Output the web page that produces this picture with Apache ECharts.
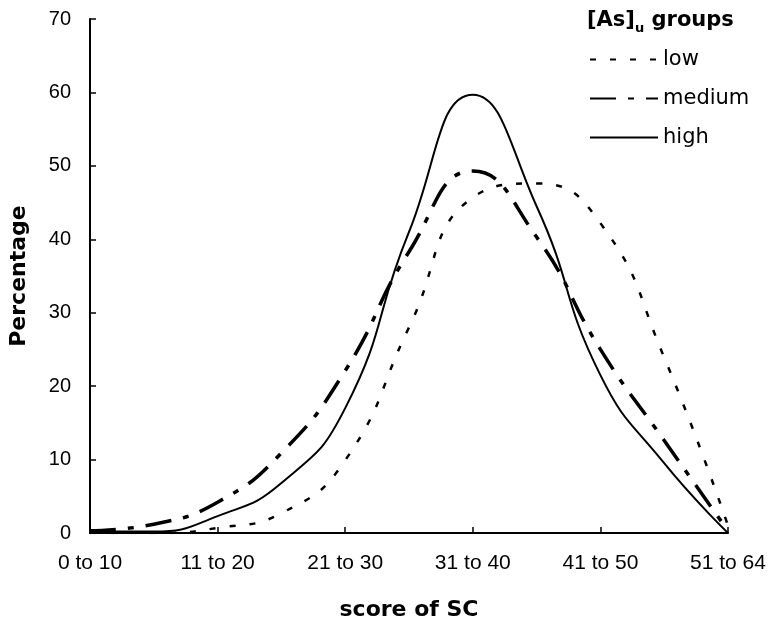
<!DOCTYPE html>
<html>
<head>
<meta charset="utf-8">
<style>
html,body{margin:0;padding:0;background:#fff;}
#chart{width:776px;height:626px;}
</style>
<script src="https://cdn.jsdelivr.net/npm/echarts@6/dist/echarts.min.js"></script>
</head>
<body>
<div id="chart"></div>
<script>
// Category labels on the x axis
const categories = ['0 to 10', '11 to 20', '21 to 30', '31 to 40', '41 to 50', '51 to 64'];
const xPos = [0, 0.5, 1, 1.5, 2, 2.5, 3, 3.5, 4, 4.5, 5];
// Series values (percentage)
const lowValues    = [0,   0,   0.7, 2.7, 9.9,  28,   45.7, 47.6, 42.2, 23.9, 1];
const mediumValues = [0.3, 1.2, 4.2, 10.9, 22.1, 38.3, 49.3, 40.3, 25,  12.6, 0.3];
const highValues   = [0.2, 0.2, 2.3, 6.8, 17,   41,   59.7, 44.5, 21.5, 9.5, 0];
const seriesNames = ['low', 'medium', 'high'];
const yTicks = [0, 10, 20, 30, 40, 50, 60, 70];

const FONT = '"Liberation Sans", Arial, sans-serif';
const WIDE = '"DejaVu Sans", Verdana, sans-serif';
const pair = (vals) => xPos.map((x, i) => [x, vals[i]]);

const chart = echarts.init(document.getElementById('chart'), null, {renderer: 'canvas'});
chart.setOption({
  animation: false,
  backgroundColor: '#fff',
  title: {
    text: '[As]{sub|u} groups',
    left: 582, top: 2,
    textStyle: {
      fontFamily: WIDE, fontSize: 21, fontWeight: 'bold', color: '#000',
      lineHeight: 28,
      rich: { sub: { fontFamily: WIDE, fontSize: 13, fontWeight: 'bold', color: '#000', verticalAlign: 'bottom', lineHeight: 28 } }
    }
  },
  legend: {
    orient: 'vertical',
    left: 584, top: 44,
    itemWidth: 68, itemHeight: 14, itemGap: 18,
    itemStyle: { opacity: 0 },
    data: seriesNames,
    textStyle: { fontFamily: WIDE, fontSize: 21, color: '#000' }
  },
  grid: { left: 84, right: 48, top: 19, bottom: 91, containLabel: false },
  xAxis: {
    type: 'value', min: 0, max: 5, interval: 1,
    name: 'score of SC', nameLocation: 'middle', nameGap: 66,
    nameTextStyle: { fontFamily: WIDE, fontSize: 22, fontWeight: 'bold', color: '#000' },
    axisLine: { lineStyle: { color: '#000', width: 2 } },
    axisTick: { inside: true, length: 6, lineStyle: { color: '#000', width: 1.5 } },
    axisLabel: { fontFamily: FONT, fontSize: 21, color: '#000', margin: 20,
      formatter: (v) => categories[Math.round(v)] },
    splitLine: { show: false }
  },
  yAxis: {
    type: 'value', min: 0, max: 70, interval: 10,
    name: 'Percentage', nameLocation: 'middle', nameGap: 60,
    nameTextStyle: { fontFamily: WIDE, fontSize: 22, fontWeight: 'bold', color: '#000' },
    axisLine: { show: true, lineStyle: { color: '#000', width: 2 } },
    axisTick: { show: true, inside: true, length: 6, lineStyle: { color: '#000', width: 1.5 } },
    axisLabel: { fontFamily: FONT, fontSize: 20, color: '#000', margin: 19,
      formatter: (v) => yTicks.includes(v) ? String(v) : '' },
    splitLine: { show: false }
  },
  series: [
    { name: 'low', type: 'line', data: pair(lowValues), smooth: 0.5, showSymbol: false, symbol: 'none',
      lineStyle: { color: '#000', width: 2.5, type: [6, 14] }, itemStyle: { color: '#000' } },
    { name: 'medium', type: 'line', data: pair(mediumValues), smooth: 0.5, showSymbol: false, symbol: 'none',
      lineStyle: { color: '#000', width: 3.5, type: [26, 12, 6, 12] }, itemStyle: { color: '#000' } },
    { name: 'high', type: 'line', data: pair(highValues), smooth: 0.5, showSymbol: false, symbol: 'none',
      lineStyle: { color: '#000', width: 2, type: 'solid' }, itemStyle: { color: '#000' } }
  ]
});
</script>
</body>
</html>
